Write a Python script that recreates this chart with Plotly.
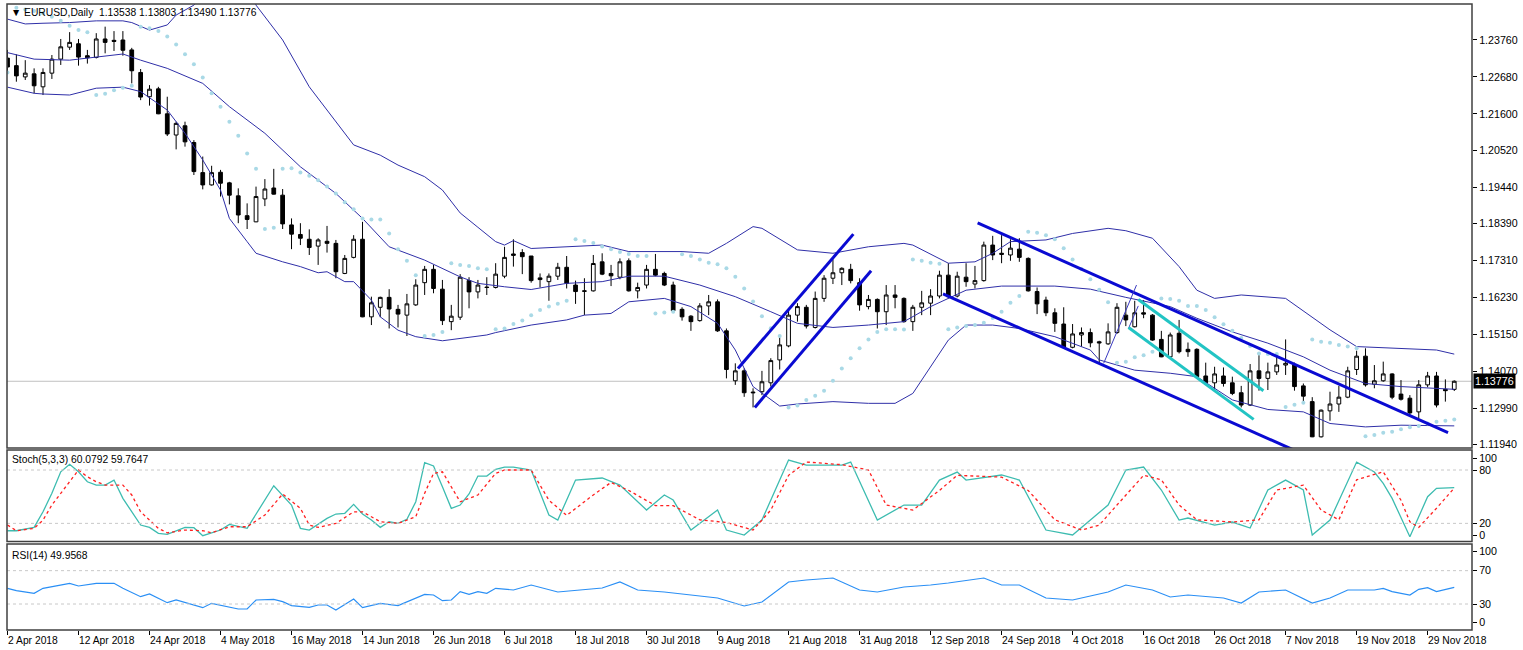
import plotly.graph_objects as go

# ---------------- data ----------------
opens = [1.2323,1.2301,1.2268,1.2277,1.2239,1.2279,1.2320,1.2355,1.2365,1.2330,
1.2325,1.2379,1.2375,1.2376,1.2347,1.2281,1.2210,1.2233,1.2160,1.2098,
1.2125,1.2076,1.1988,1.1952,1.1989,1.1958,1.1920,1.1862,1.1844,1.1911,
1.1943,1.1922,1.1835,1.1807,1.1793,1.1773,1.1787,1.1781,1.1693,1.1740,
1.1793,1.1566,1.1594,1.1623,1.1588,1.1571,1.1601,1.1666,1.1705,1.1647,
1.1552,1.1565,1.1672,1.1639,1.1653,1.1652,1.1685,1.1750,1.1754,1.1744,
1.1680,1.1669,1.1685,1.1711,1.1659,1.1642,1.1642,1.1727,1.1693,1.1682,
1.1730,1.1642,1.1659,1.1705,1.1693,1.1659,1.1588,1.1568,1.1555,1.1598,
1.1610,1.1525,1.1379,1.1408,1.1346,1.1347,1.1373,1.1440,1.1481,1.1571,
1.1594,1.1535,1.1620,1.1679,1.1695,1.1705,1.1666,1.1596,1.1617,1.1581,
1.1630,1.1620,1.1552,1.1594,1.1606,1.1627,1.1688,1.1627,1.1682,1.1662,
1.1672,1.1776,1.1752,1.1747,1.1764,1.1737,1.1640,1.1615,1.1578,1.1545,
1.1477,1.1513,1.1520,1.1493,1.1487,1.1520,1.1571,1.1537,1.1578,1.1571,
1.1500,1.1449,1.1518,1.1471,1.1471,1.1393,1.1373,1.1393,1.1373,1.1344,
1.1308,1.1408,1.1386,1.1405,1.1425,1.1425,1.1364,1.1318,1.1215,1.1291,
1.1311,1.1331,1.1412,1.1451,1.1369,1.1379,1.1399,1.1340,1.1328,1.1288,
1.1367,1.1393,1.1354,1.13538]
highs = [1.2347,1.2334,1.2317,1.2293,1.2293,1.2332,1.2379,1.2399,1.2379,1.2347,
1.2396,1.2415,1.2402,1.2402,1.2353,1.2291,1.2244,1.2239,1.2210,1.2137,
1.2137,1.2083,1.2035,1.2008,1.1996,1.1961,1.1942,1.1898,1.1947,1.1969,
1.1999,1.1940,1.1854,1.1840,1.1822,1.1796,1.1832,1.1791,1.1747,1.1805,
1.1844,1.1625,1.1625,1.1647,1.1601,1.1633,1.1676,1.1715,1.1718,1.1674,
1.1601,1.1691,1.1682,1.1674,1.1682,1.1723,1.1771,1.1793,1.1764,1.1744,
1.1693,1.1693,1.1724,1.1744,1.1672,1.1679,1.1747,1.1752,1.1718,1.1737,
1.1737,1.1666,1.1718,1.1750,1.1698,1.1669,1.1594,1.1571,1.1606,1.1630,
1.1617,1.1532,1.1430,1.1415,1.1357,1.1408,1.1445,1.1506,1.1586,1.1606,
1.1601,1.1640,1.1688,1.1734,1.1711,1.1721,1.1679,1.1630,1.1620,1.1659,
1.1659,1.1623,1.1601,1.1642,1.1647,1.1701,1.1723,1.1698,1.1723,1.1715,
1.1786,1.1803,1.1805,1.1793,1.1796,1.1740,1.1652,1.1625,1.1591,1.1594,
1.1545,1.1535,1.1532,1.1496,1.1547,1.1606,1.1610,1.1613,1.1615,1.1574,
1.1525,1.1520,1.1557,1.1491,1.1474,1.1432,1.1420,1.1418,1.1391,1.1364,
1.1428,1.1454,1.1432,1.1459,1.1500,1.1432,1.1371,1.1331,1.1295,1.1347,
1.1364,1.1420,1.1467,1.1474,1.1425,1.1435,1.1401,1.1381,1.1337,1.1381,
1.1405,1.1405,1.1383,1.13803]
lows = [1.2285,1.2254,1.2259,1.2220,1.2215,1.2262,1.2303,1.2347,1.2301,1.2307,
1.2322,1.2337,1.2344,1.2330,1.2249,1.2200,1.2184,1.2159,1.2095,1.2056,
1.2064,1.1981,1.1939,1.1950,1.1918,1.1895,1.1840,1.1823,1.1843,1.1890,
1.1924,1.1823,1.1764,1.1776,1.1747,1.1718,1.1754,1.1679,1.1691,1.1737,
1.1565,1.1542,1.1565,1.1532,1.1535,1.1510,1.1598,1.1630,1.1635,1.1542,
1.1527,1.1557,1.1591,1.1620,1.1630,1.1649,1.1679,1.1713,1.1691,1.1666,
1.1652,1.1613,1.1674,1.1649,1.1604,1.1571,1.1640,1.1688,1.1656,1.1676,
1.1640,1.1620,1.1649,1.1685,1.1656,1.1581,1.1555,1.1525,1.1552,1.1571,
1.1522,1.1386,1.1367,1.1332,1.1301,1.1337,1.1362,1.1412,1.1477,1.1552,
1.1532,1.1532,1.1610,1.1662,1.1659,1.1664,1.1584,1.1588,1.1532,1.1542,
1.1591,1.1549,1.1525,1.1571,1.1571,1.1620,1.1620,1.1623,1.1654,1.1649,
1.1669,1.1732,1.1723,1.1730,1.1727,1.1640,1.1574,1.1568,1.1522,1.1475,
1.1474,1.1479,1.1477,1.1428,1.1484,1.1516,1.1539,1.1535,1.1562,1.1496,
1.1448,1.1448,1.1459,1.1449,1.1386,1.1371,1.1352,1.1362,1.1337,1.1301,
1.1305,1.1350,1.1352,1.1396,1.1396,1.1350,1.1318,1.1214,1.1213,1.1262,
1.1288,1.1328,1.1396,1.1362,1.1357,1.1376,1.1325,1.1321,1.1274,1.1269,
1.1360,1.1301,1.1318,1.13490]
closes = [1.2297,1.2271,1.2279,1.2242,1.2281,1.2320,1.2356,1.2369,1.2326,1.2324,
1.2379,1.2369,1.2372,1.2346,1.2286,1.2209,1.2232,1.2160,1.2101,1.2132,
1.2078,1.1991,1.1952,1.1988,1.1957,1.1922,1.1864,1.1851,1.1918,1.1940,
1.1925,1.1838,1.1808,1.1796,1.1769,1.1791,1.1781,1.1698,1.1737,1.1793,
1.1566,1.1607,1.1623,1.1589,1.1574,1.1604,1.1659,1.1705,1.1649,1.1555,
1.1568,1.1682,1.1639,1.1659,1.1652,1.1691,1.1740,1.1746,1.1742,1.1672,
1.1675,1.1685,1.1711,1.1664,1.1640,1.1641,1.1722,1.1691,1.1686,1.1727,
1.1642,1.1652,1.1705,1.1688,1.1659,1.1584,1.1566,1.1552,1.1598,1.1610,
1.1525,1.1412,1.1408,1.1344,1.1344,1.1376,1.1438,1.1484,1.1571,1.1596,
1.1539,1.1620,1.1679,1.1695,1.1708,1.1672,1.1601,1.1617,1.1581,1.1630,
1.1623,1.1552,1.1594,1.1607,1.1627,1.1688,1.1625,1.1685,1.1669,1.1672,
1.1776,1.1747,1.1749,1.1767,1.1740,1.1642,1.1604,1.1578,1.1547,1.1477,
1.1516,1.1520,1.1490,1.1490,1.1522,1.1594,1.1557,1.1578,1.1574,1.1498,
1.1449,1.1513,1.1464,1.1464,1.1391,1.1373,1.1399,1.1371,1.1342,1.1308,
1.1408,1.1386,1.1405,1.1425,1.1430,1.1362,1.1334,1.1215,1.1293,1.1311,
1.1331,1.1408,1.1451,1.1367,1.1379,1.1399,1.1331,1.1325,1.1285,1.1367,
1.1393,1.1308,1.1350,1.13776]

sar = [1.2281,1.2470,1.2465,1.2461,1.2454,1.2444,1.2432,1.2418,1.2405,1.2399,
1.2215,1.2219,1.2229,1.2236,1.2242,
1.2415,1.2410,1.2402,1.2386,1.2363,1.2334,1.2305,1.2266,1.2220,1.2181,1.2137,1.2096,1.2044,1.1999,
1.1823,1.1827,
1.1999,1.2001,1.1988,1.1979,1.1966,1.1947,1.1927,1.1901,1.1881,1.1854,1.1851,1.1851,1.1810,1.1764,1.1730,1.1688,
1.1510,1.1513,1.1522,
1.1723,1.1718,1.1715,1.1708,1.1705,
1.1530,1.1532,1.1545,1.1555,1.1571,1.1586,1.1596,1.1604,1.1613,
1.1793,1.1788,1.1782,1.1772,1.1764,1.1756,1.1750,1.1744,1.1744,
1.1576,1.1579,1.1581,
1.1749,1.1744,1.1734,1.1724,1.1720,1.1708,1.1683,1.1649,1.1611,1.1568,1.1533,1.1510,
1.1301,1.1307,1.1323,1.1335,1.1350,1.1379,1.1415,1.1445,1.1474,1.1500,1.1522,1.1530,1.1530,1.1529,
1.1734,1.1730,1.1724,1.1721,
1.1530,1.1535,1.1539,1.1542,1.1549,1.1563,1.1581,1.1607,1.1627,
1.1815,1.1812,1.1805,1.1793,1.1767,1.1734,1.1706,1.1676,1.1645,1.1609,
1.1432,1.1435,1.1448,1.1454,1.1464,
1.1620,1.1618,1.1613,1.1598,1.1598,1.1586,1.1565,1.1544,1.1525,1.1504,1.1481,1.1459,1.1457,1.1457,
1.1302,1.1309,1.1315,
1.1500,1.1493,1.1490,1.1484,1.1479,1.1474,
1.1217,1.1220,1.1227,1.1230,1.1237,1.1243,1.1247,1.1254,1.1259,1.1262,1.1266]

bars = list(range(len(closes)))

# Bollinger bands (vertices read at bar indices)
bb_up_x = [0,2,4,7,10,13,14,16,18,19,21,24,27,28,31,34,39,42,44,47,49,51,53,55,56,57,59,62,64,67,70,76,79,81,84,85,89,93,97,101,102,106,109,111,113,117,120,124,126,129,132,134,136,139,144,147,149,152,157,161,163]
bb_up_y = [1.2437,1.2423,1.2425,1.2427,1.2432,1.2432,1.2427,1.2405,1.2420,1.2449,1.2478,1.2570,1.2570,1.2478,1.2376,1.2239,1.2069,1.2039,1.2010,1.1976,1.1937,1.1870,1.1828,1.1786,1.1776,1.1789,1.1766,1.1769,1.1771,1.1776,1.1757,1.1757,1.1752,1.1781,1.1830,1.1825,1.1762,1.1752,1.1771,1.1781,1.1776,1.1723,1.1727,1.1752,1.1786,1.1791,1.1810,1.1825,1.1818,1.1796,1.1713,1.1644,1.1620,1.1630,1.1620,1.1566,1.1528,1.1479,1.1474,1.1469,1.1457]
bb_mid_x = [0,3,7,10,13,15,18,22,25,29,33,37,40,43,47,51,53,56,59,63,67,70,74,78,82,86,89,93,97,101,104,108,112,118,122,126,131,134,138,142,146,149,153,157,161,163]
bb_mid_y = [1.2339,1.2320,1.2317,1.2325,1.2335,1.2317,1.2293,1.2249,1.2181,1.2103,1.2005,1.1927,1.1854,1.1771,1.1732,1.1683,1.1664,1.1654,1.1646,1.1664,1.1669,1.1685,1.1685,1.1659,1.1625,1.1581,1.1547,1.1535,1.1542,1.1552,1.1596,1.1644,1.1656,1.1656,1.1647,1.1623,1.1596,1.1562,1.1522,1.1489,1.1449,1.1410,1.1371,1.1362,1.1357,1.1354]
bb_low_x = [0,3,4,7,10,13,15,18,20,22,24,25,27,28,31,33,35,36,38,39,41,42,44,46,49,52,54,55,59,63,65,68,70,74,77,80,82,84,86,87,89,93,97,100,102,104,106,108,111,114,118,122,123,127,131,134,138,142,146,149,153,157,163]
bb_low_y = [1.2238,1.2220,1.2218,1.2215,1.2235,1.2238,1.2225,1.2171,1.2103,1.2025,1.1937,1.1854,1.1786,1.1752,1.1727,1.1713,1.1695,1.1698,1.1669,1.1669,1.1615,1.1566,1.1527,1.1508,1.1496,1.1506,1.1513,1.1520,1.1542,1.1557,1.1571,1.1576,1.1610,1.1620,1.1596,1.1547,1.1469,1.1362,1.1323,1.1305,1.1311,1.1318,1.1313,1.1313,1.1342,1.1420,1.1498,1.1542,1.1542,1.1532,1.1508,1.1469,1.1440,1.1410,1.1401,1.1391,1.1323,1.1295,1.1288,1.1254,1.1244,1.1249,1.1247]

# Stochastic (5,3,3)
stk_x = [0,1,3,4,5,6,7,8,9,10,11,12,13,15,16,17,18,20,21,22,24,25,27,30,32,33,34,36,37,38,39,40,41,42,43,44,45,46,47,48,49,50,51,52,53,54,55,
         56,57,59,61,62,64,67,69,72,74,75,77,80,81,83,85,88,90,94,95,98,101,103,105,107,108,112,114,117,120,122,124,126,128,130,132,133,136,138,140,142,144,146,147,149,152,154,155,156,158,160,161,163]
stk_y = [11.7,11.7,15.5,33,53.8,78,86.4,78,66.8,63.1,63.1,68.7,48.1,18.1,15.5,8.8,7.6,15.5,15.1,6.1,12.5,18.9,14.4,62.3,40.6,14.4,12.5,25.6,30.5,31.3,41.4,30.5,23.7,15.5,21.8,20,24.5,44.3,88.2,84.5,61.2,36.9,40.6,53,73.2,73.2,80.8,
         83.3,83.3,80,29.4,23.7,68.7,71,63.1,35,51.9,46.2,12.5,35,12.5,6.9,23.7,91.2,85.6,85.6,88.9,23.7,40.6,40.6,68.7,77.7,68.7,74.4,68.7,12.5,6.9,23.7,40.6,80,83.3,57.5,23.7,26,18.1,21.5,14.7,57.5,68.7,57.5,6.9,23.7,88.9,77.7,65,48.1,4.9,50,59.4,60.08]
std_x = [0,1,3,4,5,7,8,9,10,11,13,14,15,17,18,20,22,23,25,27,29,31,33,34,35,37,39,40,42,44,46,47,48,49,51,53,55,
         56,59,61,63,66,68,70,73,75,78,81,84,86,88,90,94,97,99,102,105,107,112,115,118,121,123,125,128,130,132,134,138,141,143,146,148,150,152,155,157,158,159,161,163]
std_y = [18.1,11.7,14.4,23.7,40.6,66.8,80,72.4,66.8,63.1,63.1,51.9,33,14.4,9.4,12.5,11.7,9.4,16.2,16.2,29.4,53,36.9,18.1,15.5,20,33,33,21.8,20,27.4,53.8,76.3,78,44.3,51.9,76.3,
         80,80,46,29,52,66,57,40,40,24,21,12.5,35,74,89,86,80,40.6,35,57,74,72,57,24,12.5,18,40.6,74,69,40.6,24,21.5,24,57.5,63,35,24,69,78,46,21.8,15.5,37,59.76]

# RSI(14)
rsi_x = [0,1,3,4,7,8,10,12,13,15,16,18,19,22,23,26,27,28,30,31,32,34,35,36,37,39,40,42,44,47,48,49,50,51,52,53,54,55,
         57,59,62,67,69,71,74,77,80,83,85,88,90,93,96,98,101,104,106,110,112,114,117,120,122,124,126,129,131,133,137,139,141,144,147,149,151,154,155,156,158,159,160,161,163]
rsi_y = [48.8,46,42.8,48.8,54.8,51.6,54.8,54.8,48.8,38.8,42,31.6,34.8,25.6,30.8,24,24,34.8,35.6,32.8,28,26,28.8,28.8,22.8,36,25.6,30.8,28,41.6,40.8,34,34.8,44.8,41.6,44.8,42.8,48.8,
         46.8,52.8,44.4,49.2,56.4,46.8,44.4,40.8,37.2,27.6,32.4,56.4,58.8,61.2,46.8,44.4,50.4,52.8,55.2,61.2,52.8,52.8,37.2,34.8,39.6,44.4,52.8,46.8,38.4,40.8,37.2,31.2,44.4,46.8,31.2,37.2,46.8,46.8,48.8,44.8,40.8,47.6,49.6,44.8,49.96]

# hand-drawn trend lines: (bar, price) endpoints
up_chan_hi = ([82.3, 95.3], [1.1415, 1.1808])
up_chan_lo = ([84.2, 97.3], [1.1301, 1.1701])
dn_chan_hi = ([109.3, 162.3], [1.1841, 1.1227])
dn_chan_lo = ([105.4, 146.0], [1.1633, 1.1164])
thin_a = ([123.5, 127.2], [1.1430, 1.1659])
thin_b = ([126.3, 127.4], [1.1532, 1.1598])
cyan_hi = ([127.4, 141.5], [1.1617, 1.1350])
cyan_lo = ([126.3, 140.4], [1.1535, 1.1266])

last_price = 1.13776
price_ticks = [1.23760, 1.22680, 1.21600, 1.20520, 1.19440, 1.18390, 1.17310, 1.16230, 1.15150, 1.14070, 1.12990, 1.11940]
date_tick_bars = list(range(0, 161, 8))
date_tick_labels = ["2 Apr 2018", "12 Apr 2018", "24 Apr 2018", "4 May 2018", "16 May 2018", "14 Jun 2018",
                    "26 Jun 2018", "6 Jul 2018", "18 Jul 2018", "30 Jul 2018", "9 Aug 2018", "21 Aug 2018",
                    "31 Aug 2018", "12 Sep 2018", "24 Sep 2018", "4 Oct 2018", "16 Oct 2018", "26 Oct 2018",
                    "7 Nov 2018", "19 Nov 2018", "29 Nov 2018"]

for arr in (opens, highs, lows, closes, sar):
    assert len(arr) == 164, len(arr)

# ---------------- figure ----------------
FONT = "Liberation Sans"
fig = go.Figure()

BB = "#2f2fa8"
fig.add_trace(go.Scatter(x=bb_up_x, y=bb_up_y, mode="lines", line=dict(color=BB, width=1), yaxis="y"))
fig.add_trace(go.Scatter(x=bb_mid_x, y=bb_mid_y, mode="lines", line=dict(color=BB, width=1), yaxis="y"))
fig.add_trace(go.Scatter(x=bb_low_x, y=bb_low_y, mode="lines", line=dict(color=BB, width=1), yaxis="y"))

fig.add_trace(go.Scatter(x=bars, y=sar, mode="markers",
                         marker=dict(color="#a9d9e6", size=4, line=dict(width=0)), yaxis="y"))

fig.add_trace(go.Candlestick(x=bars, open=opens, high=highs, low=lows, close=closes,
                             increasing=dict(line=dict(color="black", width=1), fillcolor="white"),
                             decreasing=dict(line=dict(color="black", width=1), fillcolor="black"),
                             whiskerwidth=0, yaxis="y"))

for (lx, ly), col, w in [(up_chan_hi, "#0a0ad2", 3), (up_chan_lo, "#0a0ad2", 3),
                         (dn_chan_hi, "#0a0ad2", 3), (dn_chan_lo, "#0a0ad2", 3),
                         (thin_a, "#3a3ac0", 1), (thin_b, "#3a3ac0", 1),
                         (cyan_hi, "#22c4c4", 3), (cyan_lo, "#22c4c4", 3)]:
    fig.add_trace(go.Scatter(x=lx, y=ly, mode="lines", line=dict(color=col, width=w), yaxis="y"))

fig.add_trace(go.Scatter(x=stk_x, y=stk_y, mode="lines", line=dict(color="#3dbcb0", width=1.3), yaxis="y2"))
fig.add_trace(go.Scatter(x=std_x, y=std_y, mode="lines", line=dict(color="#ff2020", width=1.3, dash="3px,3px"), yaxis="y2"))
fig.add_trace(go.Scatter(x=rsi_x, y=rsi_y, mode="lines", line=dict(color="#2a8ff5", width=1.2), yaxis="y3"))

# layout geometry
W, H = 1523, 650
ml, mr, mt, mb = 7, 51, 4, 20
ph = H - mt - mb
def py(pix):  # pixel row -> paper fraction
    return (H - mb - pix) / ph

main_dom = [py(448), 1.0]
stoch_dom = [py(541.5), py(450)]
rsi_dom = [0.0, py(544)]

axfont = dict(family=FONT, size=10.7, color="black")
fig.update_layout(
    width=W, height=H, margin=dict(l=ml, r=mr, t=mt, b=mb),
    paper_bgcolor="white", plot_bgcolor="white", showlegend=False, boxgap=0.4,
    xaxis=dict(range=[-0.056, 165.0], anchor="y3", showgrid=False, zeroline=False, showline=False,
               tickvals=date_tick_bars, ticks="outside", ticklen=4, tickcolor="black",
               showticklabels=False, rangeslider=dict(visible=False), fixedrange=True),
    yaxis=dict(domain=main_dom, range=[1.11823, 1.24813], side="right", anchor="x",
               tickvals=price_ticks, ticktext=["%.5f" % v for v in price_ticks],
               ticks="outside", ticklen=4, tickcolor="black", tickfont=axfont,
               showgrid=False, zeroline=False, showline=False),
    yaxis2=dict(domain=stoch_dom, range=[-0.4, 102.5], side="right", anchor="x",
                tickvals=[93.5, 80, 20, 6.9], ticktext=["100", "80", "20", "0"],
                ticks="outside", ticklen=4, tickcolor="black", tickfont=axfont,
                showgrid=False, zeroline=False, showline=False),
    yaxis3=dict(domain=rsi_dom, range=[-1.2, 102.0], side="right", anchor="x",
                tickvals=[92.8, 70, 30, 7.6], ticktext=["100", "70", "30", "0"],
                ticks="outside", ticklen=4, tickcolor="black", tickfont=axfont,
                showgrid=False, zeroline=False, showline=False),
)

shapes = []
for lv in (80, 20):
    shapes.append(dict(type="line", xref="paper", x0=0, x1=1, yref="y2", y0=lv, y1=lv,
                       line=dict(color="#c8c8c8", width=1, dash="3px,3px")))
for lv in (70, 30):
    shapes.append(dict(type="line", xref="paper", x0=0, x1=1, yref="y3", y0=lv, y1=lv,
                       line=dict(color="#c8c8c8", width=1, dash="3px,3px")))
shapes.append(dict(type="line", xref="paper", x0=0, x1=1, yref="y", y0=last_price, y1=last_price,
                   line=dict(color="#c0c0c0", width=1), layer="below"))
for dom in (main_dom, stoch_dom, rsi_dom):
    shapes.append(dict(type="rect", xref="paper", yref="paper", x0=0, x1=1, y0=dom[0], y1=dom[1],
                       line=dict(color="#404040", width=1.5), fillcolor="rgba(0,0,0,0)"))
fig.update_layout(shapes=shapes)

ann = []
txtfont = dict(family=FONT, size=10.3, color="black")
ann.append(dict(xref="paper", yref="paper", x=0, y=1, xanchor="left", yanchor="top", xshift=2, yshift=-1,
                text="\u25BC EURUSD,Daily  1.13538 1.13803 1.13490 1.13776", showarrow=False, font=txtfont))
ann.append(dict(xref="paper", yref="paper", x=0, y=stoch_dom[1], xanchor="left", yanchor="top", xshift=3, yshift=-2,
                text="Stoch(5,3,3) 60.0792 59.7647", showarrow=False, font=txtfont))
ann.append(dict(xref="paper", yref="paper", x=0, y=rsi_dom[1], xanchor="left", yanchor="top", xshift=3, yshift=-4,
                text="RSI(14) 49.9568", showarrow=False, font=txtfont))
ann.append(dict(xref="paper", yref="y", x=1, y=last_price, xanchor="left", yanchor="middle", xshift=1,
                text="1.13776", showarrow=False, bgcolor="black", borderpad=1,
                font=dict(family=FONT, size=10.7, color="white")))
for b, lab in zip(date_tick_bars, date_tick_labels):
    ann.append(dict(xref="x", yref="paper", x=b, y=0, xanchor="left", yanchor="top", xshift=-2, yshift=-3,
                    text=lab, showarrow=False, font=txtfont))
fig.update_layout(annotations=ann)

fig.write_html("out.html", config={"displayModeBar": False},
               post_script="document.body.style.margin='0';document.body.style.padding='0';")
